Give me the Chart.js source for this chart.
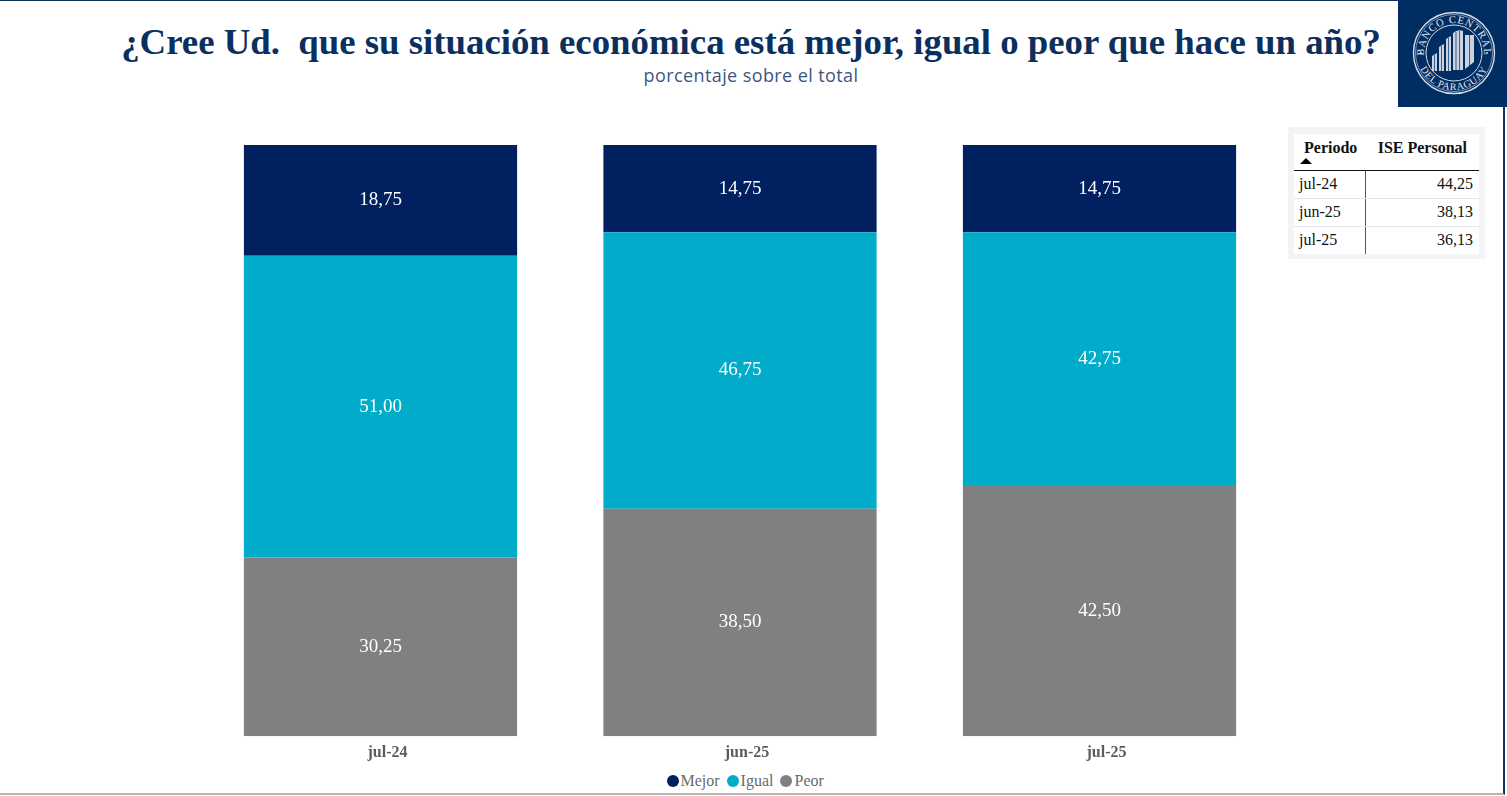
<!DOCTYPE html>
<html lang="es">
<head>
<meta charset="utf-8">
<title>Situación económica</title>
<script src="https://cdn.jsdelivr.net/npm/chart.js@4"></script>
<style>
	html, body { margin: 0; padding: 0; background: #fff; overflow: hidden; }
	#page { position: relative; width: 1507px; height: 796px; overflow: hidden; }
	#frame { position: absolute; left: 0; top: 0; width: 1505px; height: 795px; border-top: 1px solid #12345b; border-right: 2px solid #12345b; border-bottom: 2px solid #b9b4b4; box-sizing: border-box; }
	#title { position: absolute; left: 0; top: 20px; width: 1502px; text-align: center; font: bold 36.8px "Liberation Serif", serif; color: #0b2f5f; white-space: pre; }
	#subtitle { position: absolute; left: 0; top: 63px; width: 1502px; text-align: center; font: 18px "Open Sans", sans-serif; letter-spacing: 0.4px; color: #3a5784; }
	#logo { position: absolute; left: 1398px; top: 0; width: 109px; height: 107px; background: #002d62; }
	#chart { position: absolute; left: 200px; top: 130px; }
	#legend { position: absolute; left: 666.5px; top: 772px; display: flex; font: 16px "Liberation Serif", serif; color: #6a6a6a; white-space: nowrap; }
	#legend span { display: flex; align-items: center; margin-right: 7px; }
	#legend i { display: inline-block; width: 12px; height: 12px; border-radius: 50%; margin-right: 2px; }
	#tableBox { position: absolute; left: 1288px; top: 127px; width: 197px; height: 132px; background: #f3f4f6; }
	#ise { position: absolute; left: 6px; top: 7px; width: 185px; height: 119px; background: #fff; border-collapse: collapse; table-layout: fixed; font: 16px "Liberation Serif", serif; color: #111; }
	#ise th { font-weight: bold; font-size: 16px; height: 31px; line-height: 17px; vertical-align: top; padding: 5px 12px 0 0; border-bottom: 1px solid #111; text-align: right; }
	#ise th:first-child { text-align: left; padding: 5px 6px 0 10px; }
	#ise th b { display: block; width: 0; height: 0; margin-top: 2px; border-left: 6px solid transparent; border-right: 6px solid transparent; border-bottom: 6px solid #000; margin-left: -4px; }
	#ise td { height: 25px; padding: 0 6px 2px 5px; border-bottom: 1px solid #e4e5e7; text-align: right; }
	#ise td:first-child { text-align: left; border-right: 1px solid #555; }
	#ise tr:last-child td { border-bottom: 0; }
</style>
</head>
<body>
<div id="page">
	<div id="frame"></div>
	<div id="title">¿Cree Ud.  que su situación económica está mejor, igual o peor que hace un año?</div>
	<div id="subtitle">porcentaje sobre el total</div>
	<div id="logo">
		<svg width="109" height="107" viewBox="0 0 109 107">
			<defs>
				<path id="arcTop" d="M 26 53 A 30 30 0 0 1 86 53"></path>
				<path id="arcBottom" d="M 19 53 A 37 37 0 0 0 93 53"></path>
			</defs>
			<circle cx="56" cy="53" r="40.500" fill="none" stroke="#d5dde8" stroke-width="1.4"></circle>
			<circle cx="56" cy="53" r="38.500" fill="none" stroke="#d5dde8" stroke-width="0.6"></circle>
			<circle cx="56" cy="53" r="28" fill="none" stroke="#d5dde8" stroke-width="1"></circle>
			<circle cx="23" cy="53" r="1" fill="#d5dde8"></circle>
			<circle cx="89" cy="53" r="1" fill="#d5dde8"></circle>
			<text font-family="Liberation Serif" font-size="10.500" fill="#e4e9f0" letter-spacing="0.9"><textPath href="#arcTop" startOffset="50%" text-anchor="middle">BANCO CENTRAL</textPath></text>
			<text font-family="Liberation Serif" font-size="10" fill="#e4e9f0" letter-spacing="0.7"><textPath href="#arcBottom" startOffset="50%" text-anchor="middle">DEL PARAGUAY</textPath></text>
			<g fill="#c9d2df">
				<path d="M34 71V56L39 53V71Z"></path>
				<path d="M41 71V47L46 44V71Z"></path>
				<path d="M48 71V39L53 36V71Z"></path>
				<path d="M55 70V33Q60 29 65 31V70Z"></path>
				<path d="M67 69V35H76V62L67 69Z"></path>
			</g>
			<g stroke="#002d62" stroke-width="0.7">
				<path d="M36.500 55V71M43.500 46V71M50.500 38V71M58 32V70M61.500 31V70M71.500 35V66"></path>
			</g>
		</svg>
	</div>
	<canvas id="chart" width="1080" height="640"></canvas>
	<div id="legend"></div>
	<div id="tableBox"><table id="ise"></table></div>
</div>
<script>
// Chart data
const CATEGORIES = ["jul-24", "jun-25", "jul-25"];
const MEJOR = [18.75, 14.75, 14.75];
const IGUAL = [51.0, 46.75, 42.75];
const PEOR = [30.25, 38.5, 42.5];
const ISE_PERSONAL = ["44,25", "38,13", "36,13"];

const COLOR_MEJOR = "#00205f";
const COLOR_IGUAL = "#00acc9";
const COLOR_PEOR = "#808080";

const decimalComma = (value) => value.toFixed(2).replace(".", ",");

// White value in the middle of each segment
const barValues = {
	id: "barValues",
	afterDatasetsDraw(chart) {
		const { ctx } = chart;
		ctx.save();
		ctx.font = '19px "Liberation Serif", serif';
		ctx.fillStyle = "#fff";
		ctx.textAlign = "center";
		ctx.textBaseline = "middle";
		chart.data.datasets.forEach((dataset, i) => {
			chart.getDatasetMeta(i).data.forEach((bar, j) => {
				const center = bar.getCenterPoint();
				ctx.fillText(decimalComma(dataset.data[j]), center.x, center.y);
			});
		});
		ctx.restore();
	},
};

const CHART_DATA = {
	labels: CATEGORIES,
	datasets: [
		{ label: "Peor", data: PEOR, backgroundColor: COLOR_PEOR },
		{ label: "Igual", data: IGUAL, backgroundColor: COLOR_IGUAL },
		{ label: "Mejor", data: MEJOR, backgroundColor: COLOR_MEJOR },
	],
};

const CHART_CONFIG = {
	type: "bar",
	data: CHART_DATA,
	plugins: [barValues],
	options: {
		responsive: false,
		animation: false,
		categoryPercentage: 1,
		barPercentage: 0.76,
		layout: {
			padding: { left: 0.75, right: 0.75, top: 15, bottom: 8.5 },
		},
		scales: {
			x: {
				stacked: true,
				border: { display: false },
				grid: { display: false },
				ticks: {
					color: "#5c5c5c",
					padding: -1,
					labelOffset: 7,
					font: { family: "Liberation Serif", size: 16, weight: "bold" },
				},
			},
			y: {
				stacked: true,
				display: false,
				min: 0,
				max: 100,
			},
		},
		plugins: {
			legend: { display: false },
			tooltip: { enabled: false },
		},
	},
};

new Chart(document.getElementById("chart"), CHART_CONFIG);

// Legend, in reading order
const legend = document.getElementById("legend");
[...CHART_DATA.datasets].reverse().forEach((dataset) => {
	const item = document.createElement("span");
	const dot = document.createElement("i");
	dot.style.background = dataset.backgroundColor;
	item.append(dot, dataset.label);
	legend.append(item);
});

// Side table
const table = document.getElementById("ise");
const head = table.insertRow();
head.innerHTML = "<th>Periodo<b></b></th><th>ISE Personal</th>";
CATEGORIES.forEach((period, i) => {
	const row = table.insertRow();
	row.insertCell().textContent = period;
	row.insertCell().textContent = ISE_PERSONAL[i];
});
table.querySelectorAll("th")[0].style.width = "55px";
</script>
</body>
</html>
